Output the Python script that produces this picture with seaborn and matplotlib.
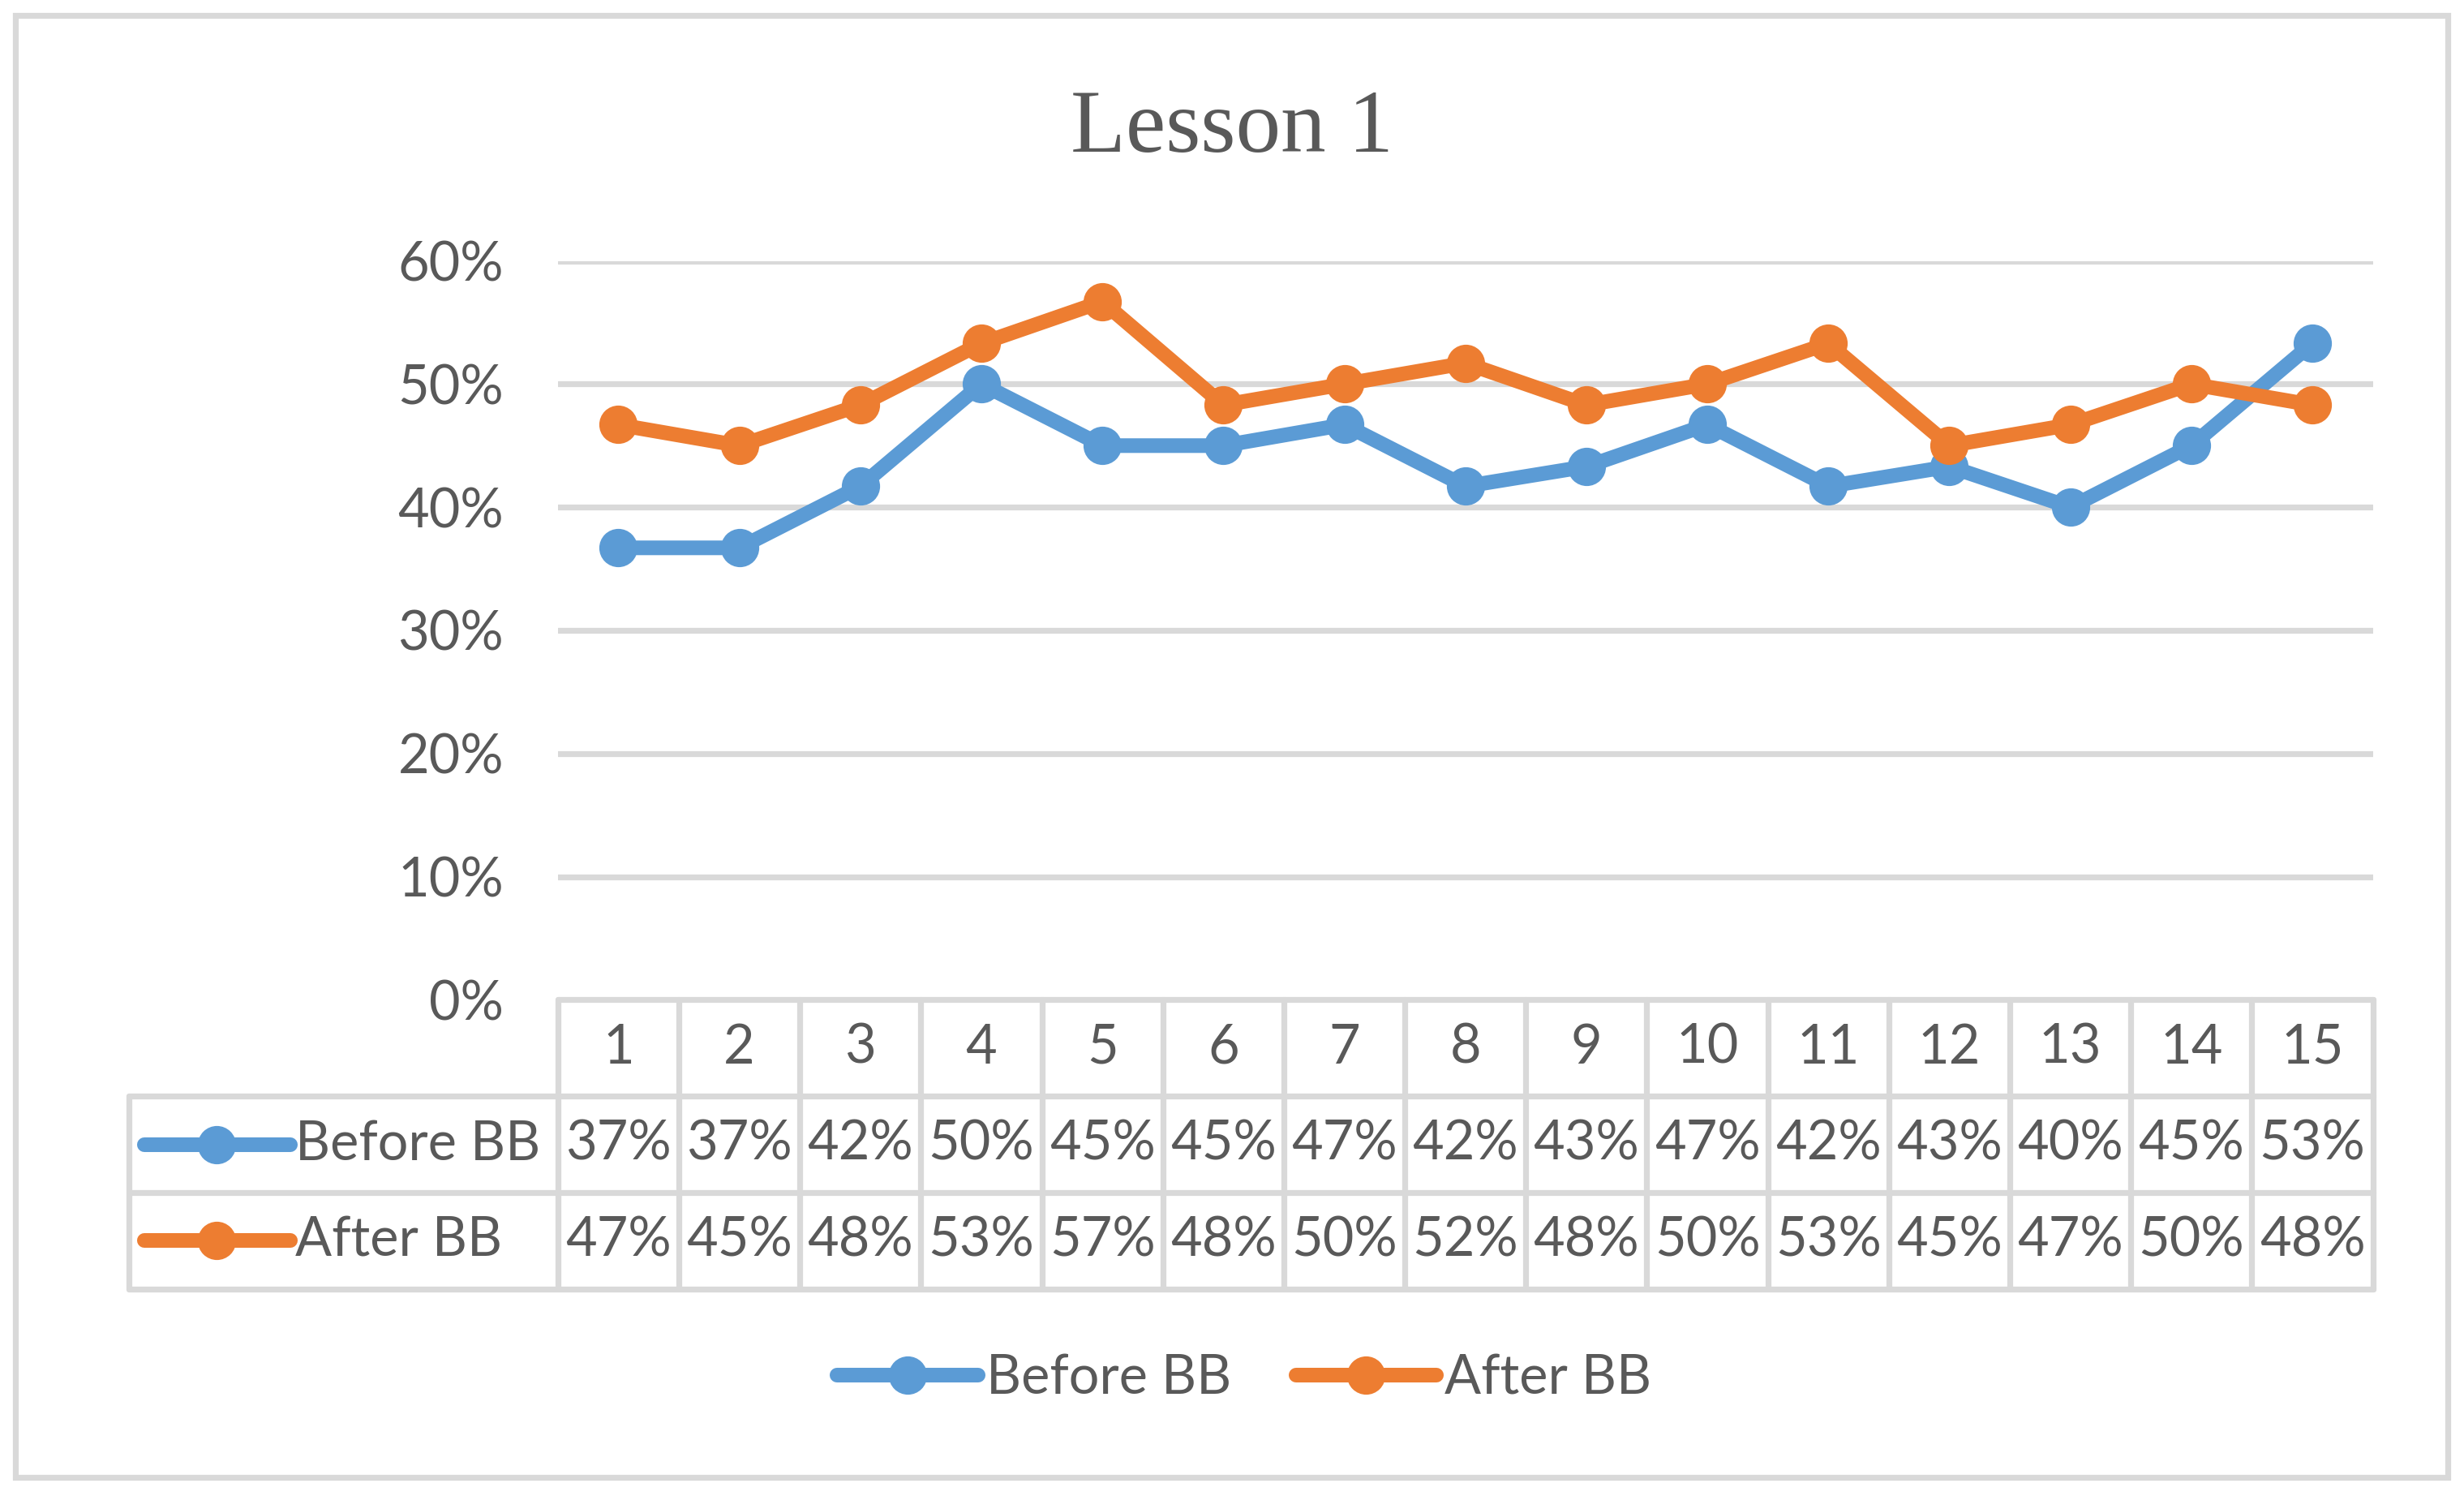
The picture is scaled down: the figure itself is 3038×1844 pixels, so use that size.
import numpy as np
import pandas as pd
import matplotlib.pyplot as plt
import seaborn as sns
from matplotlib.lines import Line2D
from matplotlib.patches import Rectangle

sns.set_theme(style="white")
plt.rcParams["font.family"] = ["Lato", "DejaVu Sans"]

# data (share of correct answers per item)
items = list(range(1, 16))
before_bb = [0.367, 0.367, 0.417, 0.500, 0.450, 0.450, 0.467, 0.417,
             0.433, 0.467, 0.417, 0.433, 0.400, 0.450, 0.533]
after_bb = [0.467, 0.450, 0.483, 0.533, 0.567, 0.483, 0.500, 0.517,
            0.483, 0.500, 0.533, 0.450, 0.467, 0.500, 0.483]
series_names = ["Before BB", "After BB"]
yticks = [0, 0.1, 0.2, 0.3, 0.4, 0.5, 0.6]

colors = {"Before BB": "#5B9BD5", "After BB": "#ED7D31"}
text_col = "#595959"
grid_col = "#D9D9D9"
fs = 24
lw_data = 6.5
ms = 17
lw_grid = 2.6

df = pd.DataFrame({
    "item": items * 2,
    "score": before_bb + after_bb,
    "series": ["Before BB"] * len(items) + ["After BB"] * len(items),
})

fig = plt.figure(figsize=(15.19, 9.22), dpi=200)
ax = fig.add_axes([0.2264, 0.3317, 0.7366, 0.4939])

sns.lineplot(data=df, x="item", y="score", hue="series", palette=colors,
             marker="o", markersize=ms, markeredgewidth=0, linewidth=lw_data,
             legend=False, ax=ax, zorder=3)

ax.set_xlim(0.5, 15.5)
ax.set_ylim(0, 0.6)
ax.set_yticks(yticks)
ax.set_yticklabels([f"{int(round(t * 100))}%" for t in yticks])
ax.tick_params(axis="y", length=0, pad=24, labelsize=fs, labelcolor=text_col)
ax.set_xticks([])
ax.set_xlabel("")
ax.set_ylabel("")
for t in yticks[1:]:
    ax.axhline(t, color=grid_col, lw=lw_grid, zorder=1)
for s in ax.spines.values():
    s.set_visible(False)

# data table under the axis
row_h = 0.1305
xt = ax.get_xaxis_transform()
tr = ax.transAxes
lkw = dict(color=grid_col, lw=lw_grid, clip_on=False, zorder=1)
left = -0.2364
ax.plot([0, 1], [0, 0], transform=tr, **lkw)
for k in (1, 2, 3):
    ax.plot([left, 1], [-k * row_h, -k * row_h], transform=tr, **lkw)
for b in np.arange(0.5, 16.0, 1.0):
    ax.plot([b, b], [0, -3 * row_h], transform=xt, **lkw)
ax.plot([left, left], [-row_h, -3 * row_h], transform=tr, **lkw)

for i in items:
    ax.text(i, -0.5 * row_h, str(i), transform=xt, ha="center", va="center",
            fontsize=fs, color=text_col)
for r, (name, vals) in enumerate(zip(series_names, [before_bb, after_bb])):
    yc = -(r + 1.5) * row_h
    ax.add_line(Line2D([-0.2277, -0.1472], [yc, yc], transform=tr, color=colors[name],
                       lw=lw_data, solid_capstyle="round", clip_on=False))
    ax.add_line(Line2D([-0.1879], [yc], transform=tr, marker="o", markersize=ms,
                       markeredgewidth=0, color=colors[name], clip_on=False))
    ax.text(-0.1446, yc, name, transform=tr, ha="left", va="center",
            fontsize=fs, color=text_col)
    for i, v in zip(items, vals):
        ax.text(i, yc, f"{round(v * 100):.0f}%", transform=xt, ha="center",
                va="center", fontsize=fs, color=text_col)

fig.text(0.5, 0.913, "Lesson 1", ha="center", va="center", fontsize=40,
         color=text_col, family="Liberation Serif")

handles = [Line2D([], [], color=colors[n], lw=lw_data, marker="o", markersize=ms,
                  markeredgewidth=0, label=n) for n in series_names]
fig.legend(handles=handles, loc="center", bbox_to_anchor=(0.505, 0.0785), ncol=2,
           frameon=False, fontsize=fs, handlelength=2.6, handletextpad=0.15,
           columnspacing=1.2, labelcolor=text_col)

fig.add_artist(Rectangle((0.0064, 0.0126), 0.987, 0.9769, transform=fig.transFigure,
                         fill=False, edgecolor=grid_col, lw=lw_grid))

fig.savefig("out.png", dpi=200)
